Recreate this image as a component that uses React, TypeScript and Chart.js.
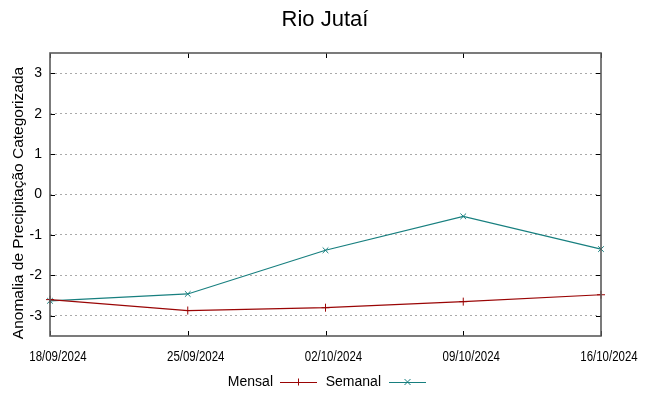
import React, { useEffect, useRef } from "react";
import { Chart, registerables } from "chart.js";

Chart.register(...registerables);

const TITLE = "Rio Jutaí";
const Y_TITLE = "Anomalia de Precipitação Categorizada";
const DATES = ["18/09/2024", "25/09/2024", "02/10/2024", "09/10/2024", "16/10/2024"];
const MENSAL = [-2.6, -2.87, -2.8, -2.65, -2.48];
const SEMANAL = [-2.63, -2.46, -1.38, -0.54, -1.35];
const Y_TICKS = [-3, -2, -1, 0, 1, 2, 3];

const RED = "#9a0505";
const TEAL = "#177f7f";
const SANS = "'Liberation Sans', Arial, sans-serif";

const framePlugin = {
  id: "frame",
  afterDraw(chart: any) {
    const { ctx, chartArea: a, scales } = chart;
    ctx.save();
    // tick marks inward
    ctx.strokeStyle = "#000";
    ctx.lineWidth = 1;
    const xs = scales.x;
    DATES.forEach((_, i) => {
      const x = Math.round(xs.getPixelForValue(i)) + 0.5;
      ctx.beginPath();
      ctx.moveTo(x, a.bottom);
      ctx.lineTo(x, a.bottom - 5);
      ctx.moveTo(x, a.top);
      ctx.lineTo(x, a.top + 5);
      ctx.stroke();
    });
    const ys = scales.y;
    Y_TICKS.forEach((v) => {
      const y = Math.round(ys.getPixelForValue(v)) + 0.5;
      ctx.beginPath();
      ctx.moveTo(a.left, y);
      ctx.lineTo(a.left + 5, y);
      ctx.moveTo(a.right, y);
      ctx.lineTo(a.right - 5, y);
      ctx.stroke();
    });
    // border box
    ctx.strokeStyle = "#5a5a5a";
    ctx.lineWidth = 1.6;
    ctx.strokeRect(a.left, a.top, a.right - a.left, a.bottom - a.top);

    // title
    ctx.fillStyle = "#000";
    ctx.font = `22px ${SANS}`;
    ctx.textAlign = "center";
    ctx.textBaseline = "alphabetic";
    ctx.fillText(TITLE, 325, 26);

    // y title
    ctx.textBaseline = "middle";
    ctx.save();
    ctx.translate(19, 203);
    ctx.rotate(-Math.PI / 2);
    ctx.font = `15.5px ${SANS}`;
    ctx.fillText(Y_TITLE, 0, 0);
    ctx.restore();

    // x tick labels (condensed)
    ctx.font = `14px ${SANS}`;
    DATES.forEach((d, i) => {
      const x = xs.getPixelForValue(i) + 8;
      ctx.save();
      ctx.translate(x, 357);
      ctx.scale(0.82, 1);
      ctx.fillText(d, 0, 0);
      ctx.restore();
    });

    // legend
    ctx.font = `14px ${SANS}`;
    ctx.textBaseline = "middle";
    ctx.textAlign = "right";
    const ly = 382;
    const items = [
      { label: "Mensal", color: RED, textEnd: 273, x0: 280, x1: 317, style: "plus" },
      { label: "Semanal", color: TEAL, textEnd: 381, x0: 389, x1: 426, style: "x" },
    ];
    items.forEach((it) => {
      ctx.fillStyle = "#000";
      ctx.fillText(it.label, it.textEnd, ly);
      ctx.strokeStyle = it.color;
      ctx.lineWidth = 1;
      ctx.beginPath();
      ctx.moveTo(it.x0, ly + 0.5);
      ctx.lineTo(it.x1, ly + 0.5);
      const m = (it.x0 + it.x1) / 2;
      if (it.style === "plus") {
        ctx.moveTo(m, ly - 3.5);
        ctx.lineTo(m, ly + 3.5);
      } else {
        ctx.moveTo(m - 3, ly - 3);
        ctx.lineTo(m + 3, ly + 3);
        ctx.moveTo(m - 3, ly + 3);
        ctx.lineTo(m + 3, ly - 3);
      }
      ctx.stroke();
    });
    ctx.restore();
  },
};

export default function App() {
  const ref = useRef<HTMLCanvasElement | null>(null);
  useEffect(() => {
    document.body.style.margin = "0";
    if (!ref.current) return;
    const chart = new Chart(ref.current, {
      type: "line",
      data: {
        labels: DATES,
        datasets: [
          {
            label: "Mensal",
            data: MENSAL,
            borderColor: RED,
            backgroundColor: RED,
            borderWidth: 1.2,
            pointStyle: "cross",
            pointRadius: 4,
            pointBorderWidth: 1,
            tension: 0,
          },
          {
            label: "Semanal",
            data: SEMANAL,
            borderColor: TEAL,
            backgroundColor: TEAL,
            borderWidth: 1.2,
            pointStyle: "crossRot",
            pointRadius: 4,
            pointBorderWidth: 1,
            tension: 0,
          },
        ],
      },
      options: {
        responsive: false,
        animation: false,
        layout: { padding: { left: 0, right: 48, top: 53, bottom: 0 } },
        plugins: {
          legend: { display: false },
          tooltip: { enabled: false },
          title: { display: false },
        },
        scales: {
          x: {
            type: "category",
            offset: false,
            grid: { display: false, drawTicks: false },
            border: { display: false },
            ticks: { display: false, autoSkip: false, maxRotation: 0 },
            afterFit(scale: any) {
              scale.height = 60;
            },
          },
          y: {
            type: "linear",
            min: -3.5,
            max: 3.5,
            afterBuildTicks(scale: any) {
              scale.ticks = Y_TICKS.map((v) => ({ value: v }));
            },
            grid: {
              color: "#aaaaaa",
              lineWidth: 1,
              drawTicks: false,
            },
            border: { display: false, dash: [2, 3] },
            ticks: {
              color: "#000",
              font: { family: SANS, size: 14 },
              padding: 8,
            },
            afterFit(scale: any) {
              scale.width = 50;
            },
          },
        },
      },
      plugins: [framePlugin],
    });
    return () => chart.destroy();
  }, []);
  return (
    <div style={{ position: "absolute", left: 0, top: 0, width: 649, height: 396 }}>
      <canvas ref={ref} width={649} height={396} style={{ width: 649, height: 396 }} />
    </div>
  );
}
